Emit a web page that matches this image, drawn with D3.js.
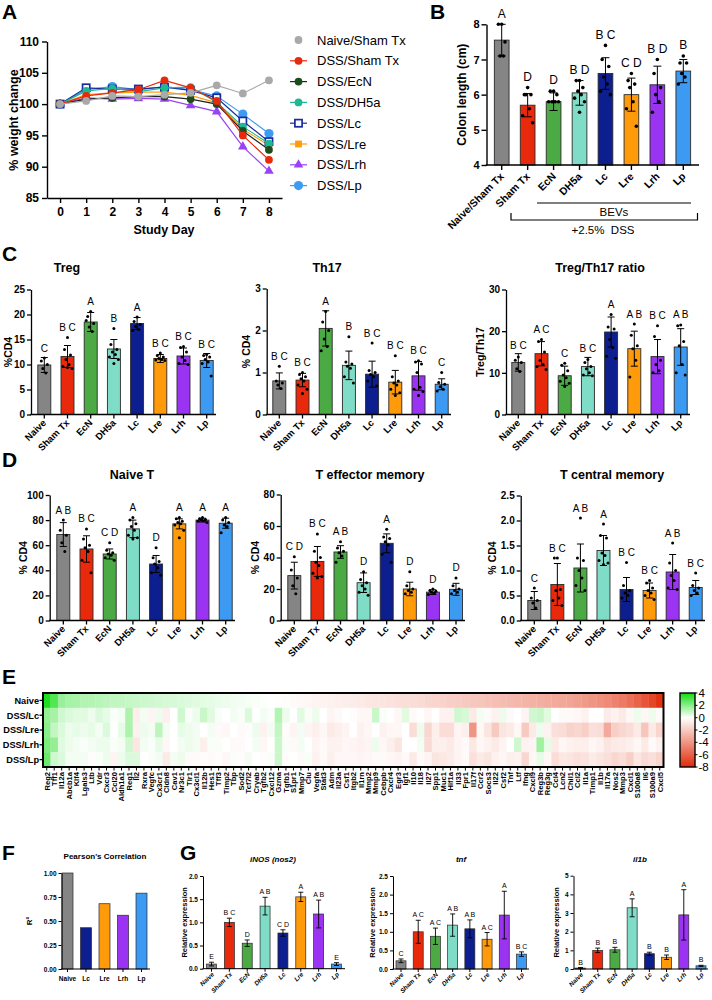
<!DOCTYPE html>
<html lang="en">
<head>
<meta charset="utf-8">
<title>BEVs colitis figure</title>
<script src="https://cdn.jsdelivr.net/npm/d3@7"></script>
<style>
  body { margin: 0; background: #fff; }
  svg text { font-family: 'Liberation Sans', Arial, Helvetica, sans-serif; fill: #000; }
</style>
</head>
<body>
<div id="fig"></div>
<script>
// ---------- data ----------
const groups = ["Naive", "Sham Tx", "EcN", "DH5a", "Lc", "Lre", "Lrh", "Lp"];
const groupColors = ["#858585", "#e8290b", "#4caa45", "#7fdcc6", "#0d1f8e", "#ff9a0a", "#9a33f2", "#3d9af2"];

// A: weight change
const days = [0, 1, 2, 3, 4, 5, 6, 7, 8];
const weightNames = ["Naive/Sham Tx", "DSS/Sham Tx", "DSS/EcN", "DSS/DH5a", "DSS/Lc", "DSS/Lre", "DSS/Lrh", "DSS/Lp"];
const wNaive = [100, 100.5, 101.3, 101.2, 101.5, 101.8, 103.0, 101.7, 103.8];
const wSham  = [100, 101.3, 101.8, 102.3, 103.8, 102.6, 100.5, 95.0, 91.1];
const wEcN   = [100, 100.8, 101.0, 101.2, 101.2, 100.8, 100.0, 95.7, 92.7];
const wDH5a  = [100, 102.1, 102.5, 102.0, 102.6, 102.7, 100.3, 96.4, 93.7];
const wLc    = [100, 102.6, 102.4, 102.4, 102.7, 102.2, 101.0, 97.3, 94.0];
const wLre   = [100, 101.5, 101.8, 101.9, 101.9, 101.4, 100.2, 96.0, 93.4];
const wLrh   = [100, 101.0, 100.8, 100.9, 100.8, 99.8, 98.8, 93.2, 89.3];
const wLp    = [100, 102.3, 102.8, 102.3, 102.8, 102.3, 101.3, 98.4, 95.3];

// B: colon length
const colonGroups = ["Naive/Sham Tx", "Sham Tx", "EcN", "DH5a", "Lc", "Lre", "Lrh", "Lp"];
const colonMean = [7.55, 5.70, 5.80, 6.05, 6.60, 6.00, 6.28, 6.67];
const colonSd = [0.45, 0.33, 0.25, 0.35, 0.45, 0.47, 0.53, 0.33];
const colonDots = [[8.0, 8.0, 7.5, 7.1, 7.1], [6.2, 6.0, 6.0, 6.0, 5.6, 5.4, 5.2], [6.1, 6.1, 6.0, 5.8, 5.8, 5.8, 5.8, 5.8],
  [6.4, 6.4, 6.2, 6.1, 6.0, 5.9, 5.8, 5.5], [7.4, 7.0, 6.8, 6.5, 6.3, 6.1, 6.0], [6.6, 6.4, 6.3, 6.2, 5.8, 5.6, 5.1],
  [7.0, 6.6, 6.2, 6.0, 5.8, 5.5], [7.1, 6.9, 6.9, 6.6, 6.5, 6.3]];
const colonLetters = ["A", "D", "D", "B D", "B C", "C D", "B D", "B"];

// C
const tregMean = [9.9, 11.6, 18.5, 13.1, 18.2, 11.2, 11.7, 10.8];
const tregSd = [1.5, 2.2, 1.9, 1.9, 1.2, 0.8, 1.6, 1.4];
const tregDots = [[11.3, 10.7, 10.0, 9.2, 8.3], [15.4, 13.0, 11.9, 11.0, 10.0, 9.6, 9.2, 9.4], [20.6, 19.6, 18.2, 17.5, 16.6, 18.8],
  [17.2, 14.0, 13.0, 12.5, 12.0, 11.5, 11.0, 10.2], [19.5, 18.6, 18.0, 17.6, 17.0, 16.8], [12.3, 11.8, 11.5, 11.2, 11.0, 10.9, 10.8],
  [13.6, 13.4, 12.5, 11.5, 10.8, 10.2, 10.0], [12.0, 11.8, 11.5, 11.0, 10.5, 10.2, 7.7]];
const tregLetters = ["C", "B C", "A", "B", "A", "B C", "B C", "B C"];

const th17Mean = [0.80, 0.82, 2.05, 1.17, 0.96, 0.77, 0.92, 0.72];
const th17Sd = [0.19, 0.16, 0.42, 0.34, 0.31, 0.28, 0.34, 0.13];
const th17Dots = [[1.15, 0.8, 0.75, 0.7, 0.62], [1.0, 0.95, 0.9, 0.85, 0.8, 0.7, 0.6, 0.5], [2.45, 2.2, 2.0, 1.8, 1.62, 1.52],
  [1.85, 1.25, 1.2, 1.15, 1.1, 0.9, 0.75], [1.7, 1.05, 1.0, 0.95, 0.9, 0.8, 0.68], [1.4, 0.9, 0.8, 0.75, 0.7, 0.6, 0.52, 0.45],
  [1.28, 1.25, 1.2, 1.0, 0.65, 0.6, 0.55, 0.45], [1.0, 0.76, 0.72, 0.66, 0.6, 0.56]];
const th17Letters = ["B C", "B C", "A", "B", "B C", "B C", "B C", "C"];

const ratioMean = [12.5, 14.6, 9.3, 11.5, 19.8, 15.8, 13.9, 16.2];
const ratioSd = [2.1, 2.9, 2.3, 2.2, 3.6, 4.2, 4.1, 4.4];
const ratioDots = [[13.8, 13.0, 12.5, 11.0, 10.3], [18.0, 17.5, 15.0, 13.0, 12.0, 11.5, 10.8], [12.3, 11.8, 10.5, 9.5, 8.8, 8.0, 7.5, 6.7],
  [13.2, 12.5, 11.5, 11.0, 10.0, 9.5, 9.3], [24.0, 21.0, 20.5, 18.0, 16.0, 14.0, 13.5], [21.7, 19.0, 16.5, 15.8, 13.0, 9.0],
  [21.3, 18.7, 13.0, 12.0, 10.5, 10.0], [21.5, 21.3, 17.5, 16.5, 12.0, 10.0, 9.5]];
const ratioLetters = ["B C", "A C", "C", "B C", "A", "A B", "B C", "A B"];

// D
const naiveTMean = [68.5, 57, 53, 73, 45, 77, 80, 77.5];
const naiveTSd = [9.5, 10.5, 4, 7, 6.8, 4, 1.5, 4];
const naiveTDots = [[80, 72, 68, 62, 55], [73, 65, 60, 58, 55, 48, 38], [62, 56, 54, 53, 52, 50, 48], [82, 80, 77, 75, 72, 68, 66, 65],
  [58, 50, 47, 45, 42, 38, 36], [82, 81, 79, 78, 77, 76, 72, 66], [82, 81, 80.5, 80, 79.5, 79, 78], [82, 80, 78, 76, 75, 70]];
const naiveTLetters = ["A B", "B C", "C D", "A", "D", "A", "A", "A"];

const teffMean = [28.5, 37.5, 43.5, 24, 49, 20, 18, 19.8];
const teffSd = [8.5, 9.5, 4, 6.2, 6, 4.3, 1.5, 3.8];
const teffDots = [[40.5, 32, 27, 22, 17], [55, 44, 40, 37, 35, 30, 28, 27], [50, 46, 44, 43, 41, 37], [31, 26, 24, 22, 20, 18, 16],
  [58, 53, 52, 50, 48, 42, 37], [31, 22, 20, 19, 18, 17], [20, 19, 18.5, 18, 17.5, 16.5], [27, 22, 20, 19, 18, 17]];
const teffLetters = ["C D", "B C", "A B", "D", "A", "D", "D", "D"];

const tcmMean = [0.40, 0.72, 1.05, 1.40, 0.62, 0.60, 0.97, 0.66];
const tcmSd = [0.18, 0.42, 0.48, 0.30, 0.24, 0.15, 0.35, 0.14];
const tcmDots = [[0.65, 0.45, 0.4, 0.35, 0.25], [1.25, 1.25, 0.62, 0.6, 0.45, 0.4, 0.3], [2.05, 1.25, 1.2, 1.0, 0.85, 0.7, 0.6],
  [1.93, 1.7, 1.65, 1.35, 1.3, 1.2, 1.15, 1.12], [1.16, 0.7, 0.6, 0.55, 0.5, 0.45], [0.8, 0.75, 0.65, 0.6, 0.55, 0.5, 0.42],
  [1.55, 1.15, 1.0, 0.9, 0.8, 0.65, 0.62], [0.95, 0.7, 0.65, 0.6, 0.55, 0.5]];
const tcmLetters = ["C", "B C", "A B", "A", "B C", "B C", "A B", "B C"];

// E: heatmap
const heatRows = ["Naive", "DSS/Lc", "DSS/Lre", "DSS/Lrh", "DSS/Lp"];
const genes = ["Reg2", "Tff1", "Il12a", "Abcb1a", "Klf4", "Lgals3", "Ltb", "Vdr", "Cxcr3", "Ccl20",
  "Aldh1a1", "Reg1", "Il2", "Rxra", "Vegfc", "Cx3cr1", "Cldn8", "Cav1", "Nr3c1", "Tlr1",
  "Cx3cl1", "Il12b", "Hes1", "Tff3", "Timp2", "Tbp", "Sod2", "Tcf7l2", "Cryab", "Tgfb2",
  "Cxcl12", "Gzma", "Tgfb1", "S1pr1", "Mmp7", "Clu", "Vegfa", "Stat3", "Adm", "Il23a",
  "Csf1", "Itgb2", "Il1rn", "Mmp2", "Mmp9", "Cebpb", "Cxcr4", "Egr3", "Igf1", "Il10",
  "Il18", "Il27", "Spp1", "Muc1", "Hif1a", "Il33", "Fpr1", "Il17f", "Ccr2", "Socs3",
  "Il22", "Csf2", "Tnf", "Ltf", "Ifng", "Cxcl9", "Reg3b", "Reg3g", "Ccl4", "Lcn2",
  "Chil1", "Ccl2", "Il1a", "Timp1", "Il1b", "Il17a", "Nos2", "Mmp3", "Cxcl1", "S100a8",
  "Il6", "S100a9", "Cxcl5"];
const hNaive = [3.8, 2.9, 1.7, 1.5, 1.45, 1.3, 1.25, 1.2, 1.1, 1.05,
  1.0, 0.95, 0.9, 0.85, 0.8, 0.75, 0.7, 0.65, 0.6, 0.55,
  0.5, 0.45, 0.4, 0.35, 0.3, 0.25, 0.2, 0.15, 0.1, 0.05,
  0.0, -0.05, -0.1, -0.2, -0.25, -0.3, -0.4, -0.45, -0.5, -0.6,
  -0.65, -0.7, -0.8, -0.9, -0.95, -1.0, -1.1, -1.2, -1.25, -1.3,
  -1.4, -1.5, -1.6, -1.7, -1.8, -1.9, -2.0, -2.1, -2.2, -2.3,
  -2.4, -2.5, -2.6, -2.7, -2.8, -2.9, -3.0, -3.1, -3.2, -3.3,
  -3.4, -3.6, -3.8, -4.0, -4.2, -4.4, -4.7, -5.0, -5.4, -5.9,
  -6.4, -7.0, -7.7];
const hLc = [1.8, 1.5, 0.8, 0.6, 0.5, 0.5, 0.3, 0.6, 0.4, 0.1,
  0.2, 1.4, -0.6, 0.2, -0.4, 0.3, -0.6, 0.0, 0.8, 0.1,
  0.3, 0.9, 0.5, 0.1, 0.0, 0.2, 0.1, 0.6, 0.0, 0.2,
  0.1, 1.3, 0.3, 0.0, 0.5, 0.1, 0.3, 0.0, -0.4, -0.2,
  0.0, -0.1, -0.3, -0.3, 0.9, 0.1, 0.0, -0.3, 0.5, -0.2,
  0.0, -0.3, 0.0, -0.5, -0.5, 0.8, 0.7, -0.8, 0.2, -0.2,
  -0.5, 0.3, -0.2, 0.0, -0.4, 0.8, 0.9, 0.5, 0.0, -0.2,
  -0.2, -0.3, -0.5, 0.0, 0.0, -0.7, -0.5, -0.8, -0.3, 0.3,
  -0.3, 0.3, -0.2];
const hLre = [2.0, 1.0, 0.6, 0.3, 0.4, 0.3, 0.4, 0.2, 0.6, 0.0,
  0.4, 1.4, -0.5, 0.3, 0.2, 1.1, 0.2, 0.0, 0.4, 0.3,
  0.2, 0.0, 0.2, -0.2, -0.3, 0.0, -0.2, -0.1, 0.3, -0.5,
  0.2, 1.0, -0.1, -0.4, 0.2, -0.4, -0.6, -0.3, -0.8, -0.6,
  -0.4, 0.0, -0.5, -0.3, 0.0, -0.5, -0.3, -0.3, 0.0, -1.3,
  0.3, -1.5, -0.6, -1.3, -1.3, -0.4, -0.6, -4.0, -0.3, -1.0,
  -2.0, -1.0, -0.8, -0.3, -2.0, -0.8, 0.3, -0.5, -1.2, -1.3,
  -1.7, -1.5, -1.8, -1.2, -1.3, -3.2, -1.8, -1.5, -1.3, -0.8,
  -2.2, -0.8, -1.6];
const hLrh = [2.2, 1.8, 0.5, 0.3, 0.2, 0.1, 0.2, 0.3, 0.3, 0.1,
  0.2, 0.8, -0.9, 0.2, 0.1, 0.4, -0.3, 0.0, 0.2, 0.3,
  0.2, -0.6, 0.1, 0.1, 0.0, -0.2, -0.2, 0.0, 0.2, -0.3,
  0.0, 0.9, 0.1, -0.2, 0.2, 0.0, -0.4, -0.2, -0.5, -0.5,
  -0.3, -0.4, -0.5, -0.4, 0.3, -0.3, -0.6, -1.0, 0.0, 0.0,
  0.2, -1.4, -0.6, -0.6, -0.8, -0.4, -0.2, -0.9, -0.3, -0.5,
  -0.8, -0.4, 0.0, 0.8, -0.5, -0.4, 1.6, 0.4, -0.8, -0.3,
  -0.5, -0.6, -0.6, -0.3, -0.5, -1.0, -0.8, -0.7, -0.6, -0.3,
  -0.8, -0.2, -0.5];
const hLp = [2.5, 0.8, 0.6, 0.2, 0.2, 0.2, -0.1, 0.1, 0.3, -0.4,
  0.3, 0.6, 0.6, 0.0, 0.1, 0.2, -0.8, 0.2, 0.3, -0.2,
  -0.2, -0.1, -0.2, -0.1, -0.3, 0.1, -0.1, 0.2, 0.0, -0.1,
  0.1, 0.9, -0.1, 0.0, -0.2, 0.1, -0.5, -0.2, -0.6, -0.3,
  -0.3, -0.3, -0.4, -0.3, -0.2, -0.2, -0.3, -0.4, -0.2, -0.8,
  -0.2, -0.4, -1.0, -0.9, -0.7, -0.4, -0.2, -1.2, -0.8, -1.0,
  -0.5, -0.3, -0.6, -0.5, -1.5, -0.3, 0.4, -0.3, -1.3, -0.9,
  -1.0, -1.2, -1.1, -0.7, -1.0, -1.2, -1.5, -1.3, -1.8, -0.9,
  -1.4, -1.2, -1.6];
const heatTicks = [4, 2, 0, -2, -4, -6, -8];

// F
const pearLabels = ["Naive", "Lc", "Lre", "Lrh", "Lp"];
const pearValues = [1.0, 0.43, 0.68, 0.56, 0.79];
const pearColors = ["#858585", "#0d1f8e", "#ff9a0a", "#9a33f2", "#3d9af2"];

// G
const nos2Mean = [0.10, 1.00, 0.55, 1.35, 0.77, 1.55, 1.18, 0.10];
const nos2Err = [0.04, 0.09, 0.07, 0.19, 0.07, 0.10, 0.30, 0.03];
const nos2Letters = ["E", "B C", "D", "A B", "C D", "A", "A B", "E"];
const tnfMean = [0.22, 1.00, 0.88, 1.18, 1.08, 0.80, 1.45, 0.40];
const tnfErr = [0.05, 0.31, 0.22, 0.30, 0.24, 0.18, 0.64, 0.06];
const tnfLetters = ["C", "A C", "A C", "A B", "A B", "A C", "A", "B C"];
const il1bMean = [0.05, 1.00, 1.03, 3.28, 0.82, 0.63, 2.90, 0.17];
const il1bErr = [0.03, 0.12, 0.13, 0.48, 0.08, 0.12, 1.35, 0.03];
const il1bLetters = ["B", "B", "B", "A", "B", "B", "A", "B"];

// ---------- drawing ----------
const svg = d3.select("#fig").append("svg").attr("width", 712).attr("height", 1000).style("display", "block");
const JIT = [0, -3, 3, -1.5, 1.5, -4.5, 4.5, 0, -3, 3];

function styleAxis(a, fs, w) {
  a.attr("font-family", null).attr("font-size", fs).attr("font-weight", "bold");
  a.selectAll("path, line").attr("stroke", "#000").attr("stroke-width", w);
  a.selectAll("text").attr("fill", "#000");
}

function barPanel(o) {
  const g = svg.append("g");
  const idx = d3.range(o.labels.length);
  const y = d3.scaleLinear().domain([o.min || 0, o.max]).range([o.y0, o.y1]);
  const x = d3.scalePoint().domain(o.labels).range([o.c0, o.c1]);
  const cx = i => x(o.labels[i]);
  const aw = o.aw || 1.3;

  g.selectAll("rect.bar").data(idx).join("rect").attr("class", "bar")
    .attr("x", i => cx(i) - o.bw / 2)
    .attr("y", i => y(o.means[i]))
    .attr("width", o.bw)
    .attr("height", i => o.y0 - y(o.means[i]))
    .attr("fill", i => o.colors[i])
    .attr("stroke", "#2a2a2a")
    .attr("stroke-width", o.sw || 0.9);

  const cap = o.cap / 2;
  g.append("g").attr("stroke", "#000").attr("stroke-width", o.ew || 1).attr("fill", "none")
    .selectAll("path").data(idx).join("path")
    .attr("d", i => {
      const c = cx(i), hi = y(o.means[i] + o.errs[i]), lo = y(Math.max(o.min || 0, o.means[i] - o.errs[i]));
      return `M${c},${hi}V${lo}M${c - cap},${hi}H${c + cap}M${c - cap},${lo}H${c + cap}`;
    });

  if (o.dots) {
    const pts = [];
    o.dots.forEach((arr, i) => arr.forEach((v, j) => pts.push({ i, j, v })));
    g.selectAll("circle.dot").data(pts).join("circle").attr("class", "dot")
      .attr("cx", d => cx(d.i) + JIT[d.j % JIT.length] * o.jit)
      .attr("cy", d => y(d.v))
      .attr("r", o.dotR)
      .attr("fill", "#000");
  }

  g.selectAll("text.letter").data(idx).join("text").attr("class", "letter")
    .attr("x", cx)
    .attr("y", i => {
      let top = y(o.means[i] + o.errs[i]);
      if (o.dots) top = Math.min(top, y(d3.max(o.dots[i])) - o.dotR);
      return top - o.lgap;
    })
    .attr("text-anchor", "middle")
    .attr("font-size", o.letterFs)
    .text(i => o.letters[i]);

  const ya = g.append("g").attr("transform", `translate(${o.x0},0)`)
    .call(d3.axisLeft(y).tickValues(o.ticks).tickFormat(o.fmt || (d => d))
      .tickSize(o.ts).tickPadding(o.tp || 2).tickSizeOuter(0));
  styleAxis(ya, o.tickFs, aw);

  g.append("path").attr("d", `M${o.x0 - aw / 2},${o.y0}H${o.xEnd}`)
    .attr("stroke", "#000").attr("stroke-width", aw);
  g.selectAll("line.xt").data(idx).join("line").attr("class", "xt")
    .attr("x1", cx).attr("x2", cx).attr("y1", o.y0).attr("y2", o.y0 + o.ts)
    .attr("stroke", "#000").attr("stroke-width", aw);
  g.selectAll("text.xl").data(idx).join("text").attr("class", "xl")
    .attr("transform", i => o.rot
      ? `translate(${cx(i) + o.lx},${o.y0 + o.ly}) rotate(${o.rot})`
      : `translate(${cx(i)},${o.y0 + o.ly})`)
    .attr("text-anchor", o.rot ? "end" : "middle")
    .attr("font-size", o.labelFs).attr("font-weight", "bold")
    .attr("font-style", o.italic ? "italic" : null)
    .text(i => o.labels[i]);

  if (o.title) {
    g.append("text").attr("x", o.titleX).attr("y", o.titleY).attr("text-anchor", "middle")
      .attr("font-size", o.titleFs).attr("font-weight", "bold")
      .attr("font-style", o.titleItalic ? "italic" : null).text(o.title);
  }
  g.append("text")
    .attr("transform", `translate(${o.ytX},${(o.y0 + o.y1) / 2}) rotate(-90)`)
    .attr("text-anchor", "middle").attr("dy", "0.35em")
    .attr("font-size", o.ytFs).attr("font-weight", "bold")
    .style("white-space", "pre")
    .text(o.yTitle);
  return { g, x, y };
}

// panel letters
[["A", 2, 19], ["B", 430, 19], ["C", 2, 261], ["D", 2, 467], ["E", 2, 684], ["F", 2, 860], ["G", 180, 860]]
  .forEach(([t, x, y]) => svg.append("text").attr("x", x).attr("y", y)
    .attr("font-size", 21).attr("font-weight", "bold").text(t));

// ----- A -----
{
  const g = svg.append("g");
  const xA = d3.scaleLinear().domain([-0.5, 8.5]).range([47, 282]);
  const yA = d3.scaleLinear().domain([85, 110]).range([198, 41.5]);
  const series = [wNaive, wSham, wEcN, wDH5a, wLc, wLre, wLrh, wLp];
  const colors = ["#a9a9a9", "#e8290b", "#1d4d1d", "#1eb894", "#1a2a9e", "#ff9c0a", "#9b42f5", "#3d9cf2"];
  const lineColors = ["#a9a9a9", "#e8290b", "#222", "#1eb894", "#1a2a9e", "#ff9c0a", "#9b42f5", "#3d9cf2"];
  const shape = ["c", "c", "c", "c", "sq-open", "sq", "tri", "cbig"];

  function marker(sel, k) {
    const s = shape[k];
    if (s === "sq-open") {
      sel.append("rect").attr("x", -3.6).attr("y", -3.6).attr("width", 7.2).attr("height", 7.2)
        .attr("fill", "#fff").attr("stroke", colors[k]).attr("stroke-width", 1.7);
    } else if (s === "sq") {
      sel.append("rect").attr("x", -3.4).attr("y", -3.4).attr("width", 6.8).attr("height", 6.8).attr("fill", colors[k]);
    } else if (s === "tri") {
      sel.append("path").attr("d", d3.symbol(d3.symbolTriangle, 40)()).attr("fill", colors[k]);
    } else {
      sel.append("circle").attr("r", s === "cbig" ? 4.6 : 3.9).attr("fill", colors[k]);
    }
  }

  const line = d3.line().x((d, i) => xA(days[i])).y(d => yA(d));
  d3.range(series.length).reverse().forEach(k => {
    g.append("path").attr("d", line(series[k])).attr("fill", "none")
      .attr("stroke", lineColors[k]).attr("stroke-width", 1.2);
    series[k].forEach((v, i) => {
      const m = g.append("g").attr("transform", `translate(${xA(days[i])},${yA(v)})`);
      marker(m, k);
    });
  });

  const ya = g.append("g").attr("transform", "translate(47,0)")
    .call(d3.axisLeft(yA).tickValues([85, 90, 95, 100, 105, 110]).tickSize(5).tickPadding(3).tickSizeOuter(0));
  styleAxis(ya, 12, 1.4);
  const xa = g.append("g").attr("transform", "translate(0,198)")
    .call(d3.axisBottom(xA).tickValues(days).tickSize(5).tickPadding(4).tickSizeOuter(0));
  styleAxis(xa, 12, 1.4);

  g.append("text").attr("x", 164).attr("y", 234).attr("text-anchor", "middle")
    .attr("font-size", 12.5).attr("font-weight", "bold").text("Study Day");
  g.append("text").attr("transform", "translate(14,120) rotate(-90)").attr("text-anchor", "middle")
    .attr("dy", "0.35em").attr("font-size", 12.5).attr("font-weight", "bold").text("% weight change");

  weightNames.forEach((name, k) => {
    const yy = 40 + k * 20.8;
    if (k > 0) g.append("line").attr("x1", 290).attr("x2", 307).attr("y1", yy).attr("y2", yy)
      .attr("stroke", lineColors[k]).attr("stroke-width", 1.2);
    marker(g.append("g").attr("transform", `translate(298.5,${yy})`), k);
    g.append("text").attr("x", 317).attr("y", yy + 4.6).attr("font-size", 13).text(name);
  });
}

// ----- B -----
{
  const p = barPanel({
    labels: colonGroups, colors: groupColors, means: colonMean, errs: colonSd, dots: colonDots, letters: colonLetters,
    min: 4, max: 8, y0: 165, y1: 24.3, x0: 486.5, c0: 501.7, c1: 683.3, xEnd: 699, bw: 14.7,
    ticks: [4, 5, 6, 7, 8], ts: 5, tickFs: 11, labelFs: 10.5, letterFs: 12, lgap: 5, cap: 8, dotR: 1.8, jit: 1.1,
    rot: -45, lx: 3, ly: 12, yTitle: "Colon length (cm)", ytX: 462, ytFs: 12, aw: 1.4
  });
  const g = p.g;
  g.append("line").attr("x1", 537).attr("x2", 691).attr("y1", 203).attr("y2", 203).attr("stroke", "#000").attr("stroke-width", 1.2);
  g.append("text").attr("x", 614).attr("y", 216).attr("text-anchor", "middle").attr("font-size", 11.5).text("BEVs");
  g.append("path").attr("d", "M511,213V220H697.5V213").attr("fill", "none").attr("stroke", "#000").attr("stroke-width", 1.2);
  g.append("text").attr("x", 603).attr("y", 234).attr("text-anchor", "middle").attr("font-size", 11.5)
    .style("white-space", "pre").text("+2.5%  DSS");
}

// ----- C & D -----
const cdCommon = {
  labels: groups, colors: groupColors, bw: 13, ts: 4, tickFs: 10, labelFs: 9.5, letterFs: 10, lgap: 5,
  cap: 7, dotR: 1.5, jit: 1, rot: -45, lx: 2.5, ly: 9, titleFs: 12.5, ytFs: 10.5, aw: 1.3
};
barPanel(Object.assign({}, cdCommon, {
  means: tregMean, errs: tregSd, dots: tregDots, letters: tregLetters, max: 25, ticks: [0, 5, 10, 15, 20, 25],
  y0: 414.5, y1: 289.5, x0: 31, c0: 44.3, c1: 206.7, xEnd: 216, title: "Treg", titleX: 67, titleY: 271.5,
  yTitle: "%CD4", ytX: 8
}));
barPanel(Object.assign({}, cdCommon, {
  means: th17Mean, errs: th17Sd, dots: th17Dots, letters: th17Letters, max: 3, ticks: [0, 1, 2, 3],
  y0: 414.5, y1: 288.5, x0: 266.7, c0: 279.3, c1: 441.7, xEnd: 451, title: "Th17", titleX: 327, titleY: 271.5,
  yTitle: "% CD4", ytX: 246
}));
barPanel(Object.assign({}, cdCommon, {
  means: ratioMean, errs: ratioSd, dots: ratioDots, letters: ratioLetters, max: 30, ticks: [0, 10, 20, 30],
  y0: 414.5, y1: 289.5, x0: 506, c0: 518.3, c1: 680.7, xEnd: 690, title: "Treg/Th17 ratio", titleX: 600, titleY: 271.5,
  yTitle: "Treg/Th17", ytX: 480
}));
barPanel(Object.assign({}, cdCommon, {
  means: naiveTMean, errs: naiveTSd, dots: naiveTDots, letters: naiveTLetters, max: 100, ticks: [0, 20, 40, 60, 80, 100],
  y0: 620.5, y1: 495, x0: 49.7, c0: 63.3, c1: 225.7, xEnd: 235, title: "Naive T", titleX: 132, titleY: 478.5,
  yTitle: "% CD4", ytX: 23
}));
barPanel(Object.assign({}, cdCommon, {
  means: teffMean, errs: teffSd, dots: teffDots, letters: teffLetters, max: 80, ticks: [0, 20, 40, 60, 80],
  y0: 620.5, y1: 494.5, x0: 280.7, c0: 294.3, c1: 456, xEnd: 465, title: "T effector memory", titleX: 370, titleY: 478.5,
  yTitle: "% CD4", ytX: 255
}));
barPanel(Object.assign({}, cdCommon, {
  means: tcmMean, errs: tcmSd, dots: tcmDots, letters: tcmLetters, max: 2.5, ticks: [0, 0.5, 1, 1.5, 2, 2.5],
  fmt: d3.format(".1f"), y0: 620.5, y1: 495.5, x0: 520.7, c0: 534.3, c1: 695.7, xEnd: 705,
  title: "T central memory", titleX: 612, titleY: 478.5, yTitle: "% CD4", ytX: 492
}));

// ----- E -----
{
  const g = svg.append("g");
  const rows = [hNaive, hLc, hLre, hLrh, hLp];
  const x = d3.scaleBand().domain(genes).range([43, 663.5]);
  const y = d3.scaleBand().domain(heatRows).range([693, 767]);
  const color = d3.scaleLinear().domain([-8, 0, 4]).range(["#e02b08", "#ffffff", "#12dc12"]).clamp(true);

  const cells = [];
  rows.forEach((r, ri) => r.forEach((v, gi) => cells.push({ r: heatRows[ri], gname: genes[gi], v })));
  g.selectAll("rect.cell").data(cells).join("rect").attr("class", "cell")
    .attr("x", d => x(d.gname)).attr("y", d => y(d.r))
    .attr("width", x.bandwidth() + 0.3).attr("height", y.bandwidth() + 0.3)
    .attr("fill", d => color(d.v));
  g.append("rect").attr("x", 43).attr("y", 693).attr("width", 620.5).attr("height", 74)
    .attr("fill", "none").attr("stroke", "#000").attr("stroke-width", 2);

  heatRows.forEach(r => {
    const yc = y(r) + y.bandwidth() / 2;
    g.append("line").attr("x1", 39.5).attr("x2", 43).attr("y1", yc).attr("y2", yc).attr("stroke", "#000").attr("stroke-width", 1.3);
    g.append("text").attr("x", 39).attr("y", yc + 3.3).attr("text-anchor", "end")
      .attr("font-size", 9.2).attr("font-weight", "bold").attr("textLength", null).text(r);
  });
  genes.forEach(gn => {
    const xc = x(gn) + x.bandwidth() / 2;
    g.append("line").attr("x1", xc).attr("x2", xc).attr("y1", 767).attr("y2", 770.5).attr("stroke", "#000").attr("stroke-width", 1);
    g.append("text").attr("transform", `translate(${xc + 2.8},772) rotate(-90)`).attr("text-anchor", "end")
      .attr("font-size", 7.6).attr("font-weight", "bold").text(gn);
  });

  // colour bar
  const defs = svg.append("defs");
  const grad = defs.append("linearGradient").attr("id", "heatgrad").attr("x1", 0).attr("x2", 0).attr("y1", 0).attr("y2", 1);
  [4, 2, 0, -2, -4, -6, -8].forEach(v => grad.append("stop").attr("offset", (4 - v) / 12).attr("stop-color", color(v)));
  g.append("rect").attr("x", 680).attr("y", 693).attr("width", 15).attr("height", 74)
    .attr("fill", "url(#heatgrad)").attr("stroke", "#000").attr("stroke-width", 1.4);
  const yc = d3.scaleLinear().domain([-8, 4]).range([767, 693]);
  heatTicks.forEach(v => {
    g.append("line").attr("x1", 695).attr("x2", 697.5).attr("y1", yc(v)).attr("y2", yc(v)).attr("stroke", "#000");
    g.append("text").attr("x", 698.5).attr("y", yc(v) + 4).attr("font-size", 11.5).text(v);
  });
}

// ----- F -----
barPanel({
  labels: pearLabels, colors: pearColors, means: pearValues, errs: [0, 0, 0, 0, 0], letters: ["", "", "", "", ""],
  max: 1, y0: 969, y1: 873, x0: 61.5, c0: 67.5, c1: 141.5, xEnd: 150, bw: 11, ticks: [0, 0.25, 0.5, 0.75, 1],
  fmt: d3.format(".2f"), ts: 3, tickFs: 6.5, labelFs: 6.5, letterFs: 6, lgap: 3, cap: 0, ew: 0,
  rot: 0, ly: 12, title: "Pearson's Correlation", titleX: 105, titleY: 858.5, titleFs: 8,
  yTitle: "R²", ytX: 29.5, ytFs: 8, aw: 1, sw: 0.7
});

// ----- G -----
const gCommon = {
  labels: groups, colors: groupColors, bw: 10, ts: 3, tickFs: 6.5, labelFs: 6.3, letterFs: 7, lgap: 3,
  cap: 5, ew: 0.9, rot: -45, lx: 3, ly: 6, italic: true, titleFs: 8, titleItalic: true, titleY: 861.5,
  ytFs: 7.5, yTitle: "Relative expression", aw: 1, sw: 0.7
};
barPanel(Object.assign({}, gCommon, {
  means: nos2Mean, errs: nos2Err, letters: nos2Letters, max: 2, ticks: [0, 0.5, 1, 1.5, 2], fmt: d3.format(".1f"),
  y0: 968.7, y1: 876, x0: 203, c0: 211.5, c1: 336.5, xEnd: 345, title: "iNOS (nos2)", titleX: 273, ytX: 184
}));
barPanel(Object.assign({}, gCommon, {
  means: tnfMean, errs: tnfErr, letters: tnfLetters, max: 2.5, ticks: [0, 0.5, 1, 1.5, 2, 2.5], fmt: d3.format(".1f"),
  y0: 969, y1: 876, x0: 393, c0: 401, c1: 521.5, xEnd: 529, title: "tnf", titleX: 461, ytX: 372
}));
barPanel(Object.assign({}, gCommon, {
  means: il1bMean, errs: il1bErr, letters: il1bLetters, max: 5, ticks: [0, 1, 2, 3, 4, 5],
  y0: 969, y1: 875.7, x0: 573.5, c0: 580.5, c1: 701, xEnd: 708, title: "il1b", titleX: 640, ytX: 556
}));
</script>
</body>
</html>
